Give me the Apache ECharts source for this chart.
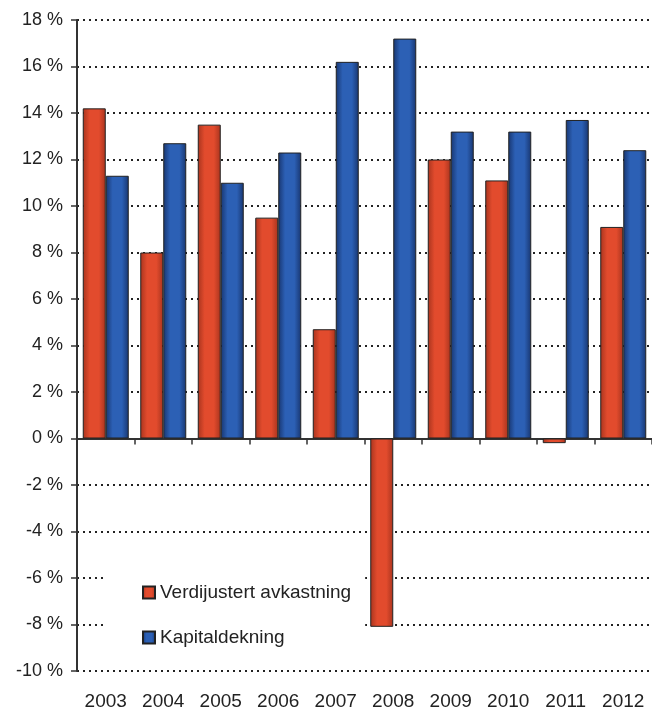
<!DOCTYPE html>
<html>
<head>
<meta charset="utf-8">
<script src="https://cdn.jsdelivr.net/npm/echarts@6/dist/echarts.min.js"></script>
<style>
  html, body { margin: 0; padding: 0; background: #fff; }
  #chart { width: 652px; height: 711px; }
</style>
</head>
<body>
<div id="chart"></div>
<script>
const years = ["2003", "2004", "2005", "2006", "2007", "2008", "2009", "2010", "2011", "2012"];
const verdijustert = [14.2, 8.0, 13.5, 9.5, 4.7, -8.1, 12.0, 11.1, -0.2, 9.1];
const kapitaldekning = [11.3, 12.7, 11.0, 12.3, 16.2, 17.2, 13.2, 13.2, 13.7, 12.4];
const seriesNames = ["Verdijustert avkastning", "Kapitaldekning"];

const fontFamily = "'Liberation Sans', Arial, sans-serif";

// horizontal shading so the bars look a bit rounded like the original
function shade(edge, mid) {
  return new echarts.graphic.LinearGradient(0, 0, 1, 0, [
    { offset: 0, color: edge },
    { offset: 0.3, color: mid },
    { offset: 0.7, color: mid },
    { offset: 1, color: edge }
  ]);
}

const chart = echarts.init(document.getElementById("chart"));
chart.setOption({
  animation: false,
  backgroundColor: "#fff",
  grid: { left: 77, right: 0, top: 20, bottom: 39 },
  legend: {
    orient: "vertical",
    left: 105,
    top: 548,
    padding: [35, 14, 12, 37],
    backgroundColor: "#fff",
    itemWidth: 12,
    itemHeight: 12,
    itemGap: 26,
    icon: "rect",
    textStyle: { fontFamily: fontFamily, fontSize: 19, color: "#222" },
    data: seriesNames
  },
  xAxis: [
    {
      type: "category",
      data: years,
      position: "bottom",
      axisLine: { show: false, onZero: false },
      axisTick: { show: false },
      axisLabel: { margin: 21, fontFamily: fontFamily, fontSize: 19, color: "#222" }
    },
    {
      // zero line with its ticks
      type: "category",
      data: years,
      position: "top",
      axisLine: { show: true, onZero: true, lineStyle: { color: "#333", width: 2 } },
      axisTick: { show: true, inside: true, length: 6, lineStyle: { color: "#333", width: 1.5 } },
      axisLabel: { show: false },
      splitLine: { show: false }
    }
  ],
  yAxis: {
    type: "value",
    min: -10,
    max: 18,
    interval: 2,
    axisLine: { show: true, lineStyle: { color: "#333", width: 2 } },
    axisTick: { show: true, length: 6, lineStyle: { color: "#333", width: 1.5 } },
    axisLabel: {
      margin: 14,
      fontFamily: fontFamily,
      fontSize: 18,
      color: "#222",
      formatter: "{value} %"
    },
    splitLine: { show: true, lineStyle: { color: "#222", width: 2, type: [2, 4] } }
  },
  series: [
    {
      name: seriesNames[0],
      type: "bar",
      xAxisIndex: 0,
      data: verdijustert,
      barGap: "0%",
      barCategoryGap: "20%",
      itemStyle: { color: shade("#a8341e", "#e24b2d"), borderColor: "#222", borderWidth: 1 }
    },
    {
      name: seriesNames[1],
      type: "bar",
      xAxisIndex: 0,
      data: kapitaldekning,
      barGap: "0%",
      barCategoryGap: "20%",
      itemStyle: { color: shade("#183670", "#2c60b5"), borderColor: "#222", borderWidth: 1 }
    }
  ]
});
</script>
</body>
</html>
